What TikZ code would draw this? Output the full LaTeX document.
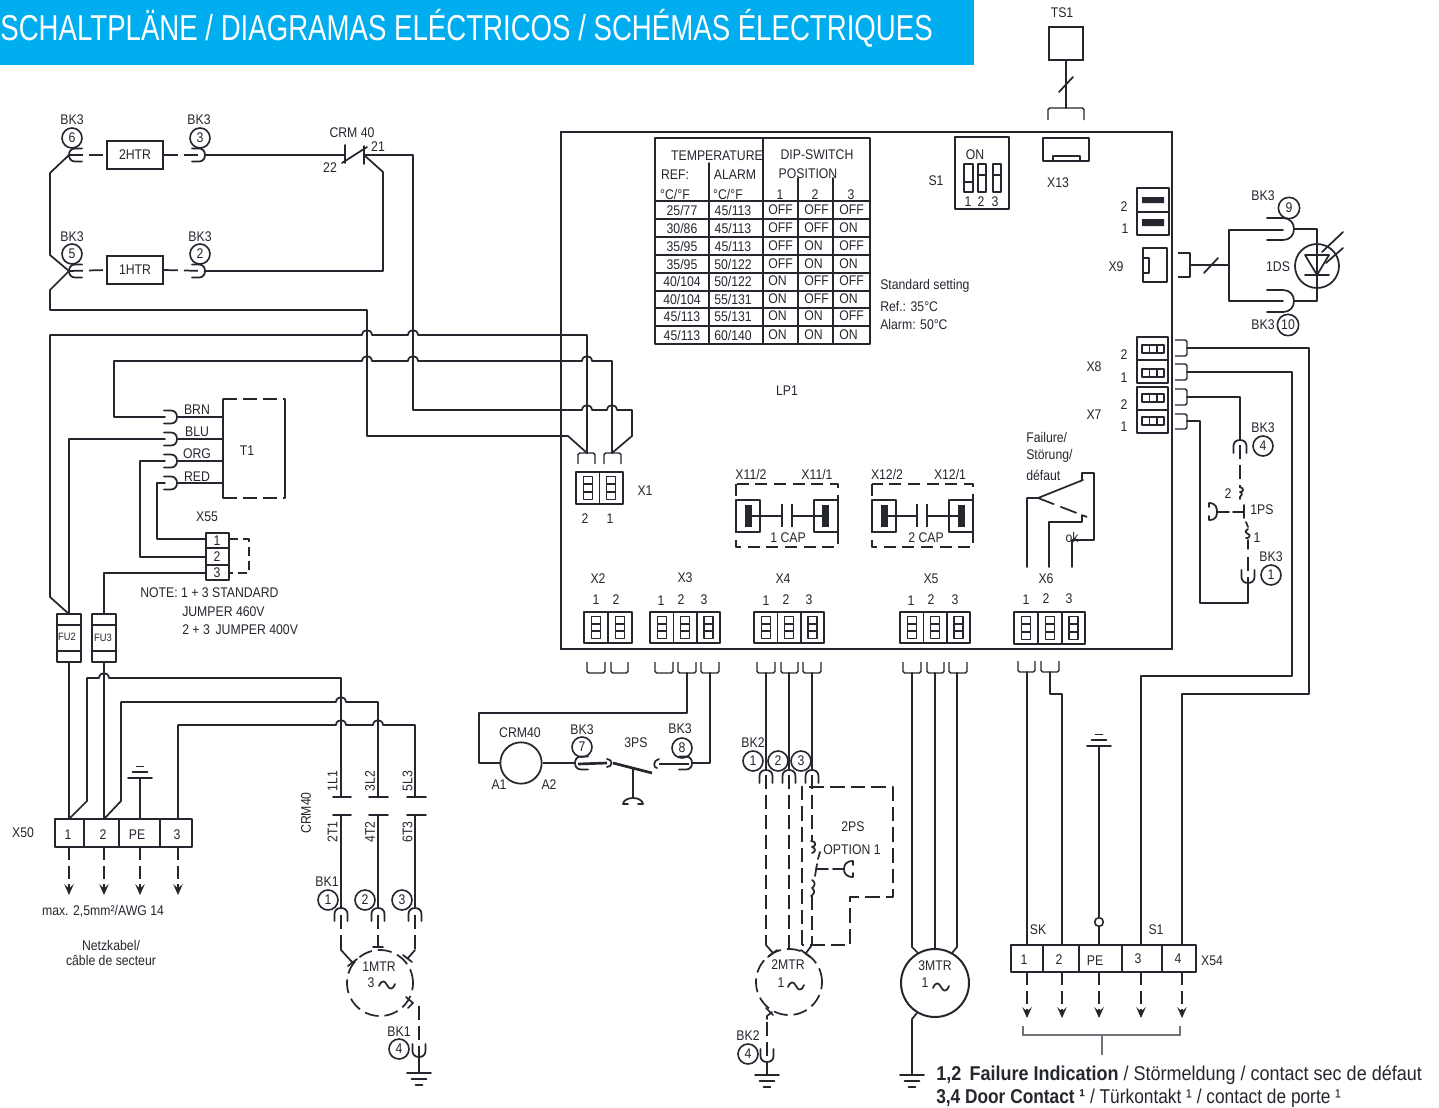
\documentclass[tikz,border=0pt]{standalone}
\usepackage{fontspec}
\setmainfont[FakeStretch=0.875]{Liberation Sans}
\newfontfamily\hdfont[FakeStretch=0.767]{Liberation Sans}
\newfontfamily\ftfont[FakeStretch=0.90]{Liberation Sans}
\newfontfamily\fufont[FakeStretch=0.865]{Liberation Sans}
\usetikzlibrary{arrows.meta}
\definecolor{ink}{HTML}{24272E}
\definecolor{hdblue}{HTML}{00ADEF}
\definecolor{brk}{HTML}{70737A}
\newcounter{tcnt}
\tikzset{
  wire/.style={draw=ink,line width=1.3pt,line cap=round,line join=round},
  thin wire/.style={draw=ink,line width=1.1pt,line join=round},
  dsh/.style={wire,line cap=butt,dash pattern=on 10.5pt off 4.5pt},
  thick wire/.style={draw=ink,line width=2pt},
  lbl/.style={text=ink,inner sep=0pt,font=\fontsize{10.5}{12}\selectfont},
  circ/.style={draw=ink,line width=1.2pt,circle,inner sep=0pt,minimum size=15pt,text=ink,font=\fontsize{10.5}{12}\selectfont},
  darrow/.style={wire,line cap=butt,dash pattern=on 10pt off 4pt,-{Stealth[length=8pt,width=7pt,inset=3pt]}},
  boxn/.style={draw=ink,line width=1.2pt,inner sep=0pt,text=ink,font=\fontsize{10.5}{12}\selectfont},
}
\newcommand\tx[4][]{\stepcounter{tcnt}\node[lbl,#1] (t\arabic{tcnt}) at (#2,#3) {#4};}
\newcommand\fork[4]{\coordinate (#1) at (#2,#3);
 \begin{scope}[shift={(#2,#3)},rotate=#4]
  \draw[wire] (-13,-6.5) -- (-6,-6.5) .. controls (-2,-6.5) and (0,-3.5) .. (0,0) .. controls (0,3.5) and (-2,6.5) .. (-6,6.5) -- (-13,6.5);
 \end{scope}}
\newcommand\bigfork[3]{\coordinate (#1) at (#2,#3);
 \draw[wire] (#2-27,#3-11) -- (#2-11,#3-11) .. controls (#2-4,#3-11) and (#2,#3-6) .. (#2,#3) .. controls (#2,#3+6) and (#2-4,#3+11) .. (#2-11,#3+11) -- (#2-27,#3+11);}
\newcommand\hh[2]{-- (#1-5,#2) .. controls (#1-4.5,#2-6.5) and (#1+4.5,#2-6.5) .. (#1+5,#2)}
\newcommand\gnd[3]{\coordinate (#1) at (#2,#3);
 \draw[wire] (#2-12,#3) -- (#2+12,#3) (#2-7.5,#3+6) -- (#2+7.5,#3+6) (#2-3.5,#3+12) -- (#2+3.5,#3+12);}
\newcommand\gndup[3]{\coordinate (#1) at (#2,#3);
 \draw[wire] (#2-12,#3) -- (#2+12,#3) (#2-7.5,#3-6) -- (#2+7.5,#3-6) (#2-3.5,#3-11.5) -- (#2+3.5,#3-11.5);}
\newcommand\tld[2]{\draw[wire] (#1-8,#2+1) .. controls (#1-5,#2-6) and (#1-2,#2-4) .. (#1,#2) .. controls (#1+2,#2+4) and (#1+5,#2+6) .. (#1+8,#2-1);}
\newcommand\cell[4]{\draw[thin wire] (#1,#3) rectangle (#2,#4);
 \draw[thin wire] ({(#1+#2)/2-4.5},#3+4.5) rectangle ({(#1+#2)/2+4.5},#4-4.5);
 \draw[thin wire] ({(#1+#2)/2-4.5},{#3+4.5+(#4-#3-9)/3}) -- ({(#1+#2)/2+4.5},{#3+4.5+(#4-#3-9)/3});
 \draw[thin wire] ({(#1+#2)/2-4.5},{#3+4.5+2*(#4-#3-9)/3}) -- ({(#1+#2)/2+4.5},{#3+4.5+2*(#4-#3-9)/3});}
\newcommand\ub[4]{\draw[thin wire,rounded corners=1.2pt] (#1,#3) -- (#1,#4) -- (#2,#4) -- (#2,#3);}
\newcommand\hcell[2]{\draw[thin wire] (1142,#1) rectangle (1164,#2);
 \draw[thin wire] (1149.5,#1) -- (1149.5,#2) (1157,#1) -- (1157,#2);}
\newcommand\rbr[2]{\draw[thin wire,rounded corners=1.2pt] (1175,#1) -- (1187,#1) -- (1187,#2) -- (1175,#2);}
\newcommand\capb[6]{%
 \draw[thin wire] (#1,500) rectangle (#1+24,532);
 \fill[ink] (#2,505) rectangle (#2+7,527);
 \draw[thin wire] (#2+7,516) -- (#3,516) (#3,504) -- (#3,527);
 \draw[thin wire] (#4,504) -- (#4,527) (#4,516) -- (#6,516);
 \draw[thin wire] (#5,500) rectangle (#5+24,532);
 \fill[ink] (#6,505) rectangle (#6+7,527);}
\begin{document}
\begin{tikzpicture}[x=0.75pt,y=-0.75pt]
\useasboundingbox (0,0) rectangle (1439,1107);
\fill[white] (0,0) rectangle (1439,1107);
% header
\fill[hdblue] (0,0) rectangle (974,65);
\node[anchor=east,inner sep=0pt,text=white,font=\hdfont\fontsize{27}{30}\selectfont] (title) at (933,28) {SCHALTPLÄNE / DIAGRAMAS ELÉCTRICOS / SCHÉMAS ÉLECTRIQUES};
% board
\node[draw=ink,line width=1.5pt,minimum width=458.25pt,minimum height=387.75pt,inner sep=0pt,anchor=north west] (board) at (560,131) {};
\tx{787}{391}{LP1}

% heaters
\node[boxn,minimum width=42pt,minimum height=21pt] (htr2) at (135,155) {2HTR};
\node[boxn,minimum width=42pt,minimum height=21pt] (htr1) at (135,270) {1HTR};
\fork{f6}{69}{155}{180}\fork{f3}{205}{155}{0}\fork{f5}{69}{271}{180}\fork{f2}{205}{271}{0}
\node[circ] (c6) at (72,138) {6};\node[circ] (c3) at (200,138) {3};\node[circ] (c5) at (72,254) {5};\node[circ] (c2) at (200,254) {2};
\tx{72}{120}{BK3}\tx{199}{120}{BK3}\tx{72}{237}{BK3}\tx{200}{237}{BK3}
\draw[dsh] (f6) -- (htr2.west);\draw[dsh] (htr2.east) -- (f3);
\draw[dsh] (f5) -- (htr1.west);\draw[dsh] (htr1.east) -- (f2);
% CRM 40 contact
\coordinate (k1) at (345,155);\coordinate (k2) at (364,155);
\tx{352}{133}{CRM 40}\tx{378}{147}{21}\tx{330}{168}{22}
\draw[wire] (f3) -- (k1);
\draw[wire] (345,145) -- (345,163) (364,146) -- (364,164);
\draw[wire] (342,163) -- (367,147);
\coordinate (x1a) at (587,453);\coordinate (x1b) at (612,453);
\draw[wire] (k2) -- (413,155) -- (413,410) \hh{587}{410} \hh{612}{410} -- (632,410) -- (632,436) -- (x1b);
\draw[wire] (k2) -- (383,172) -- (383,271) -- (f2);
\draw[wire] (f6) -- (50,173) -- (50,255) -- (f5) -- (50,290) -- (50,310) -- (367,310) -- (367,436) -- (568,436) -- (x1a);
\draw[wire] (69,614) -- (50,597) -- (50,335) \hh{367}{335} \hh{413}{335} -- (587,335) -- (x1a);
% T1
\fork{fbrn}{177}{417}{0}\fork{fblu}{177}{439}{0}\fork{forg}{177}{461}{0}\fork{fred}{177}{483}{0}
\draw[wire] (fbrn) -- (223,417) (fblu) -- (223,439) (forg) -- (223,461) (fred) -- (223,483);
\draw[wire] (114,361) \hh{367}{361} \hh{413}{361} \hh{587}{361} -- (612,361) -- (x1b);
\draw[wire] (114,361) -- (114,417) -- (165,417);
\coordinate (fu2t) at (69,614);\coordinate (fu3t) at (104,614);
\draw[wire] (fu2t) -- (69,439) -- (165,439);
\draw[wire] (165,461) -- (140,461) -- (140,557) -- (206,557);
\draw[wire] (165,483) -- (157,483) -- (157,539) -- (206,539);
\draw[wire] (fu3t) -- (104,573) -- (206,573);
\draw[wire] (285,498) -- (285,399) (223,399) -- (223,498);
\draw[dsh] (223,399) -- (285,399);\draw[dsh] (223,498) -- (285,498);
\tx{197}{410}{BRN}\tx{197}{432}{BLU}\tx{197}{454}{ORG}\tx{197}{477}{RED}\tx{247}{451}{T1}
% X55
\draw[thin wire] (206,533) rectangle (229,580) (206,548) -- (229,548) (206,565) -- (229,565);
\tx{217}{540.5}{1}\tx{217}{556.5}{2}\tx{217}{572.5}{3}\tx{207}{517}{X55}
\draw[wire,line cap=butt,dash pattern=on 7pt off 3.5pt] (229,539) -- (249,539) -- (249,573) -- (229,573);
\tx[anchor=west]{140}{592.5}{NOTE: 1 + 3 STANDARD}\tx[anchor=west]{182}{611.5}{JUMPER 460V}\tx[anchor=west]{182}{630}{2 + 3\, JUMPER 400V}
% fuses
\draw[thin wire] (57,614) rectangle (81,662) (57,625) -- (81,625) (57,651) -- (81,651);
\draw[thin wire] (92,614) rectangle (116,662) (92,625) -- (116,625) (92,651) -- (116,651);
\tx[font=\fontsize{8}{9}\selectfont]{67}{637}{FU2}\tx[font=\fontsize{8}{9}\selectfont]{103}{638}{FU3}
% X50
\coordinate (a1) at (69,819);\coordinate (a2) at (104,819);\coordinate (ape) at (140,819);\coordinate (a3) at (178,819);
\draw[wire] (55,819) rectangle (192,847) (84,819) -- (84,847) (119,819) -- (119,847) (160,819) -- (160,847);
\tx{68}{835}{1}\tx{103}{835}{2}\tx{137}{835}{PE}\tx{177}{835}{3}\tx{23}{833}{X50}
\draw[wire] (69,662) -- (a1);\draw[wire] (104,662) -- (a2);
\draw[wire] (a1) -- (87,801) -- (87,678) \hh{104}{678} -- (341,678) -- (341,797);
\draw[wire] (a2) -- (121,801) -- (121,702) \hh{341}{702} -- (378,702) -- (378,797);
\draw[wire] (a3) -- (178,725) \hh{341}{725} \hh{378}{725} -- (415,725) -- (415,797);
\gndup{g1}{140}{778}\draw[wire] (g1) -- (ape);
\foreach \i in {69,104,140,178}{\draw[darrow] (\i,847) -- (\i,895);}
\tx{103}{911}{max. 2,5mm²/AWG 14}\tx{111}{945}{Netzkabel/}\tx{111}{960}{câble de secteur}
% contactor CRM40
\draw[wire] (333,797) -- (351,797) (333,815) -- (351,815) (369,797) -- (388,797) (369,815) -- (388,815) (407,797) -- (426,797) (407,815) -- (426,815);
\tx[rotate=90,fill=white]{332.5}{781}{1L1}\tx[rotate=90,fill=white]{370}{781}{3L2}\tx[rotate=90,fill=white]{407.5}{781}{5L3}
\tx[rotate=90,fill=white]{332.5}{832}{2T1}\tx[rotate=90,fill=white]{370}{832}{4T2}\tx[rotate=90,fill=white]{407.5}{832}{6T3}
\tx[rotate=90]{306}{813}{CRM40}
\fork{m1a}{341}{908}{90}\fork{m1b}{378}{908}{90}\fork{m1c}{415}{908}{90}
\draw[wire] (341,815) -- (m1a) (378,815) -- (m1b) (415,815) -- (m1c);
\node[circ] (b11) at (328,900) {1};\node[circ] (b12) at (365,900) {2};\node[circ] (b13) at (402,900) {3};
\tx{327}{882}{BK1}
\node[draw=ink,circle,inner sep=0pt,line width=1.3pt,dash pattern=on 10.5pt off 4.5pt,minimum size=49.5pt] (mot1) at (380,983) {};
\tx{379}{967}{1MTR}\tx{371}{983}{3}\tld{387}{985}
\draw[dsh] (341,915) -- (341,950);\draw[wire] (341,948) -- (341,950) -- (352,962) (348,966) -- (357,959);
\draw[dsh] (378,915) -- (378,947);\draw[wire] (373,947) -- (383,947);
\draw[dsh] (415,915) -- (415,950);\draw[wire] (415,950) -- (408,958) (403,955) -- (412,962);
\draw[wire] (406,997) -- (413,1003) -- (408,1008);
\coordinate (m1g) at (419,1057);
\draw[dsh] (419,1006) -- (m1g);
\fork{fg1}{419}{1057}{-90}
\gnd{g2}{419}{1073}\draw[wire] (m1g) -- (g2);
\node[circ] (b14) at (399,1049) {4};\tx{399}{1032}{BK1}
% X1
\cell{576}{599.5}{472}{504}\cell{599.5}{623}{472}{504}
\draw[thin wire,rounded corners=1.2pt] (578,464) -- (578,453) -- (595,453) -- (595,464) (604,464) -- (604,453) -- (621,453) -- (621,464);
\tx{645}{491}{X1}\tx{585}{519}{2}\tx{610}{519}{1}
% table
\draw[wire,line width=1.4pt] (655,138) rectangle (870,344);
\draw[wire] (763,138) -- (763,344) (709,163) -- (709,344) (798,178) -- (798,344) (833,178) -- (833,344);
\foreach \y in {201,219,237,255,273,291,308,326}{\draw[wire] (655,\y) -- (870,\y);}
\tx{717}{156}{TEMPERATURE}\tx{817}{155}{DIP-SWITCH}\tx{808}{174}{POSITION}
\tx{675}{175}{REF:}\tx{735}{175}{ALARM}\tx{675}{194}{°C/°F}\tx{728}{194}{°C/°F}
\tx{780}{195}{1}\tx{815}{195}{2}\tx{851}{195}{3}
\foreach \y/\a/\b/\c/\d/\e in {210/25\slash 77/45\slash 113/OFF/OFF/OFF,228/30\slash 86/45\slash 113/OFF/OFF/ON,246/35\slash 95/45\slash 113/OFF/ON/OFF,264/35\slash 95/50\slash 122/OFF/ON/ON,281/40\slash 104/50\slash 122/ON/OFF/OFF,299/40\slash 104/55\slash 131/ON/OFF/ON,316/45\slash 113/55\slash 131/ON/ON/OFF,335/45\slash 113/60\slash 140/ON/ON/ON}{
 \node[lbl] at (682,\y) {\a};\node[lbl] at (733,\y) {\b};
 \node[lbl,anchor=west] at (768,\y) {\c};\node[lbl,anchor=west] at (804,\y) {\d};\node[lbl,anchor=west] at (839,\y) {\e};}
\tx[anchor=west]{880}{286}{Standard setting}\tx[anchor=west]{880}{306}{Ref.: 35°C}\tx[anchor=west]{880}{324}{Alarm: 50°C}
% S1
\draw[thin wire] (955,137) rectangle (1009,209);
\draw[thin wire] (964,164) rectangle (973,192) (964,182) -- (973,182);
\draw[thin wire] (978,164) rectangle (986,192) (978,175) -- (986,175);
\draw[thin wire] (993,164) rectangle (1001,192) (993,175) -- (1001,175);
\tx{975}{155}{ON}\tx{936}{181}{S1}\tx{968}{202}{1}\tx{981}{202}{2}\tx{995}{202}{3}
% TS1, X13
\node[boxn,minimum width=25.5pt,minimum height=24.75pt] (ts1) at (1066,43.5) {};
\tx{1062}{13}{TS1}
\coordinate (x13t) at (1066,108);
\draw[wire] (ts1.south) -- (x13t);
\draw[wire] (1059,92) -- (1073,77);
\draw[thin wire,rounded corners=1.2pt] (1048,120) -- (1048,108) -- (1084,108) -- (1084,120);
\draw[thin wire] (1043,138) rectangle (1089,161) (1053,161) -- (1053,156) -- (1080,156) -- (1080,161);
\tx{1058}{183}{X13}
% jumpers
\draw[thin wire] (1137,188) rectangle (1169,235) (1137,212) -- (1169,212);
\fill[ink] (1142,197) rectangle (1164,203) (1142,219) rectangle (1164,226);
\tx{1124}{207}{2}\tx{1125}{229}{1}
% X9
\draw[thin wire] (1143,248) rectangle (1167,282) (1143,258) -- (1149,258) -- (1149,273) -- (1143,273);
\tx{1116}{267}{X9}
\draw[thin wire] (1178,253) -- (1190,253) -- (1190,277) -- (1178,277);
\coordinate (x9w) at (1190,265);\coordinate (ldj) at (1229,265);
\draw[wire] (x9w) -- (ldj) (1204,273) -- (1218,258);
\bigfork{f9}{1294}{229}\bigfork{f10}{1294}{301}
\draw[wire] (1283,230) -- (1229,230) -- (1229,301) -- (1283,301);
\draw[wire] (f9) -- (1317,229) -- (1317,301) -- (f10);
\node[draw=ink,circle,line width=1.3pt,inner sep=0pt,minimum size=33pt] (led) at (1317,266) {};
\draw[wire] (1305,255) -- (1329,255) -- (1317,275) -- cycle (1305,275) -- (1329,275);
\draw[wire] (1322,252) -- (1343,232) (1326,263) -- (1343,248);
\tx{1278}{267}{1DS}\tx{1263}{196}{BK3}\tx{1263}{325}{BK3}
\node[circ,minimum size=16pt] (c9) at (1289,208) {9};\node[circ,minimum size=16pt] (c10) at (1288,325) {10};
% X8 X7
\draw[thin wire] (1137,337) rectangle (1168,383) (1137,360) -- (1168,360) (1137,387) rectangle (1168,433) (1137,410) -- (1168,410);
\hcell{345}{353}\hcell{369}{377}\hcell{394}{402}\hcell{417}{425}
\rbr{340}{356}\rbr{364}{380}\rbr{389}{405}\rbr{414}{429}
\tx{1124}{355}{2}\tx{1124}{378}{1}\tx{1124}{405}{2}\tx{1124}{427}{1}\tx{1094}{367}{X8}\tx{1094}{415}{X7}
% X54
\draw[wire] (1011,945) rectangle (1196,972) (1043,945) -- (1043,972) (1079,945) -- (1079,972) (1122,945) -- (1122,972) (1162,945) -- (1162,972);
\tx{1024}{960}{1}\tx{1059}{960}{2}\tx{1095}{961}{PE}\tx{1138}{959}{3}\tx{1178}{959}{4}\tx{1212}{961}{X54}\tx{1038}{930}{SK}\tx{1156}{930}{S1}
\coordinate (s1) at (1027,945);\coordinate (s2) at (1062,945);\coordinate (spe) at (1099,945);\coordinate (s3) at (1141,945);\coordinate (s4) at (1182,945);
\draw[wire] (1187,348) -- (1309,348) -- (1309,694) -- (1182,694) -- (s4);
\draw[wire] (1187,372) -- (1292,372) -- (1292,676) -- (1141,676) -- (s3);
\draw[wire] (1027,672) -- (s1);
\draw[wire] (1050,672) -- (1050,694) -- (1062,694) -- (s2);
\gndup{g3}{1099}{746}
\node[draw=ink,circle,line width=1.2pt,inner sep=0pt,minimum size=6.5pt] (pecirc) at (1099,922) {};
\draw[wire] (g3) -- (pecirc.north);\draw[wire] (pecirc.south) -- (spe);
\foreach \i in {1027,1062,1099,1141,1182}{\draw[darrow] (\i,972) -- (\i,1018);}
\coordinate (brc) at (1102,1035);
\draw[brk,line width=1pt] (1023,1026) -- (1023,1035) -- (1180,1035) -- (1180,1026) (brc) -- (1102,1055);
% 1PS
\fork{f4}{1240}{440}{90}\fork{f1}{1248}{583}{-90}
\node[circ] (c4) at (1263,446) {4};\node[circ] (c1) at (1271,575) {1};
\tx{1263}{428}{BK3}\tx{1271}{557}{BK3}\tx{1228}{494}{2}\tx{1262}{510}{1PS}\tx{1257}{538}{1}
\draw[wire] (1187,397) -- (1240,397) -- (f4);
\draw[dsh] (1240,445) -- (1240,488);
\draw[wire] (1240,487) .. controls (1244,488) and (1244,492) .. (1240,492) .. controls (1243,493) and (1242,496) .. (1240,497) -- (1240,499);
\draw[wire] (1244,505) -- (1244,518) (1246,522) -- (1248,527);
\draw[wire] (1233,512) -- (1244,512);
\draw[wire] (1217,512) -- (1229,512);
\draw[wire] (1209,503) .. controls (1216,503) and (1217,508) .. (1217,512) .. controls (1217,516) and (1216,520) .. (1209,520) (1209,503) -- (1209,507) (1209,520) -- (1209,516);
\draw[wire] (1248,529) .. controls (1244,531) and (1246,534) .. (1248,534) .. controls (1252,535) and (1248,539) .. (1246,538) (1248,540) -- (1248,549);
\draw[dsh] (1248,557) -- (1248,583);
\draw[wire] (f1) -- (1248,603) -- (1200,603) -- (1200,421) -- (1187,421);
% Failure contact
\tx[anchor=west]{1026}{437}{Failure/}\tx[anchor=west]{1026}{456}{Störung/}\tx[anchor=west]{1026}{475}{défaut}\tx{1072}{537}{ok}
\coordinate (x6a) at (1027,567);\coordinate (x6b) at (1049,567);\coordinate (x6c) at (1072,567);
\draw[wire] (x6a) -- (1027,498) -- (1038,498) -- (1083,480);
\draw[wire,line cap=butt,dash pattern=on 13pt off 5pt] (1038,498) -- (1087,517);
\draw[wire] (x6b) -- (1049,522) -- (1082,522) -- (1082,515);
\draw[wire] (1082,480) -- (1082,473) -- (1094,473) -- (1094,540) -- (1072,540) -- (x6c);
\tx{1046}{579}{X6}\tx{1026}{600}{1}\tx{1046}{599}{2}\tx{1069}{599}{3}
% bottom terminals
\cell{584}{608}{612}{643}\cell{608}{632}{612}{643}
\cell{650}{673.5}{612}{643}\cell{673.5}{697}{612}{643}\cell{697}{720}{612}{643}
\cell{754}{777.5}{612}{643}\cell{777.5}{801}{612}{643}\cell{801}{824}{612}{643}
\cell{900}{923.5}{612}{643}\cell{923.5}{947}{612}{643}\cell{947}{970}{612}{643}
\cell{1014}{1038}{612}{644}\cell{1038}{1062}{612}{644}\cell{1062}{1085}{612}{644}
\tx{598}{579}{X2}\tx{596}{600}{1}\tx{616}{600}{2}
\tx{685}{578}{X3}\tx{661}{601}{1}\tx{681}{600}{2}\tx{704}{600}{3}
\tx{783}{579}{X4}\tx{766}{601}{1}\tx{786}{600}{2}\tx{809}{600}{3}
\tx{931}{579}{X5}\tx{911}{601}{1}\tx{931}{600}{2}\tx{955}{600}{3}
\ub{587}{605}{662}{673}\ub{611}{628}{662}{673}
\ub{655}{673}{662}{673}\ub{678}{696}{662}{673}\ub{701}{719}{662}{673}
\ub{757}{775}{662}{673}\ub{781}{798}{662}{673}\ub{803}{821}{662}{673}
\ub{903}{921}{662}{673}\ub{927}{944}{662}{673}\ub{949}{967}{662}{673}
\ub{1018}{1035}{661}{672}\ub{1041}{1059}{661}{672}
% CAP
\capb{736}{745}{782}{792}{814}{822}
\capb{872}{881}{917}{927}{949}{958}
\draw[dsh,line width=1.1pt,dash pattern=on 9pt off 5pt] (736,484) rectangle (838,547);
\draw[dsh,line width=1.1pt,dash pattern=on 9pt off 5pt] (872,484) rectangle (973,547);
\tx{751}{474}{X11/2}\tx{817}{474}{X11/1}\tx{887}{474}{X12/2}\tx{950}{474}{X12/1}
\tx[fill=white,inner sep=1pt]{788}{538}{1 CAP}\tx[fill=white,inner sep=1pt]{926}{538}{2 CAP}
% CRM40 coil and 3PS
\node[circle,draw=ink,line width=1.3pt,inner sep=0pt,minimum size=31pt] (coil) at (521,763) {};
\tx{520}{733}{CRM40}\tx{499}{785}{A1}\tx{549}{785}{A2}
\fork{f7}{575}{763}{180}\fork{f8}{692}{763}{0}
\node[circ] (c7) at (582,747) {7};\node[circ] (c8) at (682,748) {8};
\tx{582}{730}{BK3}\tx{680}{729}{BK3}\tx{636}{743}{3PS}
\draw[wire] (687,673) -- (687,713) -- (479,713) -- (479,763) -- (coil.west);
\draw[thick wire] (coil.east) -- (f7);
\draw[thick wire] (578,764) -- (607,763);
\draw[wire] (607,759) .. controls (613,759) and (613,767) .. (607,767);
\draw[thick wire] (613,763) -- (652,773);
\draw[thick wire] (633,769) -- (633,798);
\draw[wire] (623,804) .. controls (624,796) and (642,796) .. (643,804) (623,804) -- (628,804) (638,804) -- (643,804);
\draw[wire] (659,759) .. controls (653,760) and (653,768) .. (657,768);
\draw[thick wire] (659,764) -- (689,764);
\draw[wire] (f8) -- (710,763) -- (710,673);
% X4, 2MTR
\coordinate (m2a) at (766,770);\coordinate (m2b) at (789,770);\coordinate (m2c) at (812,770);
\draw[wire] (766,673) -- (m2a);\draw[wire] (789,673) -- (m2b);\draw[wire] (812,673) -- (m2c);
\fork{f21}{766}{770}{90}\fork{f22}{789}{770}{90}\fork{f23}{812}{770}{90}
\node[circ] (b21) at (753,761) {1};\node[circ] (b22) at (778,761) {2};\node[circ] (b23) at (801,761) {3};
\tx{753}{743}{BK2}
\draw[dsh] (766,775) -- (766,945);\draw[wire] (766,945) -- (773,953) (768,957) -- (777,950);
\draw[dsh] (789,775) -- (789,950);
\draw[dsh] (812,775) -- (812,842);
\draw[wire] (811,841) .. controls (816,841) and (817,846) .. (812,847) .. controls (816,848) and (816,852) .. (812,853);
\draw[wire] (820,852) -- (818,859) (817,864) -- (815,876);
\draw[wire] (816,869) -- (828,869);
\draw[wire] (833,869) -- (843,869);
\draw[wire] (853,861) .. controls (846,861) and (844,865) .. (844,869) .. controls (844,873) and (846,877) .. (853,877) (853,861) -- (853,865) (853,877) -- (853,873);
\draw[wire] (812,880) .. controls (816,882) and (815,886) .. (812,888) .. controls (815,890) and (815,894) .. (811,896);
\draw[dsh] (812,896) -- (812,945);\draw[wire] (812,945) -- (806,953) (801,950) -- (810,957);
\draw[dsh,dash pattern=on 11pt off 4.5pt] (802,945) -- (802,787) -- (893,787) -- (893,897) -- (850,897) -- (850,945) -- (802,945);
\tx{853}{827}{2PS}\tx{852}{850}{OPTION 1}
\node[draw=ink,circle,inner sep=0pt,line width=1.3pt,dash pattern=on 10.5pt off 4.5pt,minimum size=49.5pt] (mot2) at (789,982) {};
\tx{788}{965}{2MTR}\tx{781}{983}{1}\tld{796}{986}
\draw[wire] (772,1012) -- (767,1016) -- (767,1019) (766,1008) -- (773,1015);
\coordinate (m2g) at (767,1062);
\draw[dsh] (767,1022) -- (m2g);
\fork{fg2}{767}{1062}{-90}
\gnd{g4}{767}{1075}\draw[wire] (m2g) -- (g4);
\node[circ] (b24) at (748,1054) {4};\tx{748}{1036}{BK2}
% 3MTR
\node[draw=ink,circle,line width=1.5pt,inner sep=0pt,minimum size=51pt] (mot3) at (935,983) {};
\tx{935}{966}{3MTR}\tx{925}{983}{1}\tld{941}{987}
\draw[wire] (912,673) -- (912,947) -- (918,953);
\draw[wire] (935,673) -- (mot3.north);
\draw[wire] (957,673) -- (957,947) -- (952,953);
\gnd{g5}{912}{1075}
\draw[wire] (917,1013) -- (912,1019) -- (g5);
% footer
\node[anchor=west,inner sep=0pt,text=ink,font=\ftfont\fontsize{15}{18}\selectfont] (ft1) at (936,1075) {\textbf{1,2\ \,Failure Indication} / Störmeldung / contact sec de défaut};
\node[anchor=west,inner sep=0pt,text=ink,font=\fufont\fontsize{15}{18}\selectfont] (ft2) at (936,1098) {\textbf{3,4 Door Contact ¹} / Türkontakt ¹ / contact de porte ¹};
\end{tikzpicture}
\end{document}
